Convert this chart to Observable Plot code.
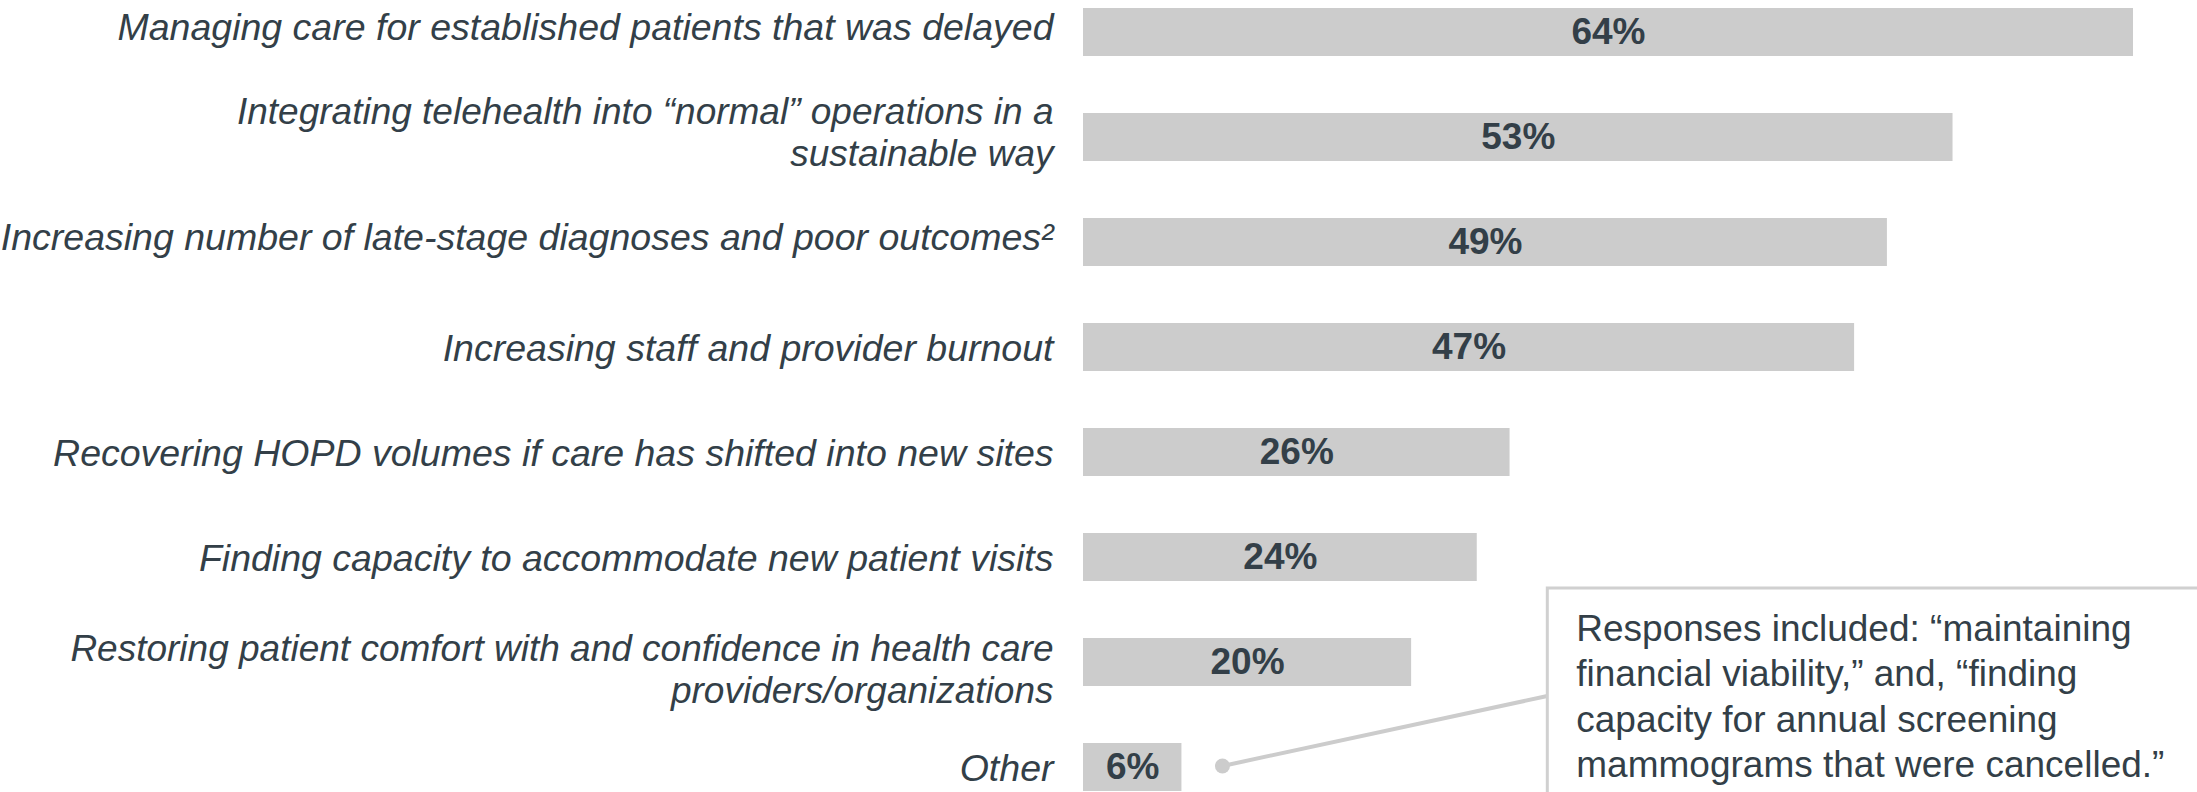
<!DOCTYPE html>
<html><head><meta charset="utf-8">
<script src="https://cdn.jsdelivr.net/npm/d3@7"></script>
<script src="https://cdn.jsdelivr.net/npm/@observablehq/plot@0.6"></script>
<style>
html,body{margin:0;padding:0;background:#fff;overflow:hidden;}
#chart svg{display:block;}
</style></head><body><div id="chart"></div>
<script>
const categories = [
  "Managing care for established patients that was delayed",
  "Integrating telehealth into “normal” operations in a\nsustainable way",
  "Increasing number of late-stage diagnoses and poor outcomes²",
  "Increasing staff and provider burnout",
  "Recovering HOPD volumes if care has shifted into new sites",
  "Finding capacity to accommodate new patient visits",
  "Restoring patient comfort with and confidence in health care\nproviders/organizations",
  "Other"
];
const values = [64, 53, 49, 47, 26, 24, 20, 6];
const valueLabels = ["64%", "53%", "49%", "47%", "26%", "24%", "20%", "6%"];
const noteCategory = "Other";
const noteLines = [
  "Responses included: “maintaining",
  "financial viability,” and, “finding",
  "capacity for annual screening",
  "mammograms that were cancelled.”"
];

const TEXT = "#333f48";
const GREY = "#cccccc";
const FONT = "'Liberation Sans', Arial, sans-serif";

const data = categories.map((c, i) => ({category: c, value: values[i], label: valueLabels[i], row: i}));

function noteMark(index, scales) {
  const x = scales.x, y = scales.y;
  const bw = y.bandwidth ? y.bandwidth() : 0;
  const cy = y(noteCategory) + bw / 2;
  const dotX = x(8.5), boxX = x(28.3);
  const g = d3.create("svg:g");
  g.append("line")
    .attr("x1", dotX).attr("y1", cy - 1)
    .attr("x2", boxX).attr("y2", cy - 71)
    .attr("stroke", GREY).attr("stroke-width", 4);
  g.append("circle")
    .attr("cx", dotX).attr("cy", cy - 1).attr("r", 7.5)
    .attr("fill", GREY);
  g.append("rect")
    .attr("x", boxX).attr("y", cy - 179)
    .attr("width", 1200).attr("height", 400)
    .attr("fill", "white").attr("stroke", "#d0d0d0").attr("stroke-width", 3);
  const t = g.append("text")
    .attr("fill", TEXT).attr("font-size", 37).attr("font-family", FONT)
    .attr("text-anchor", "start");
  noteLines.forEach((l, i) => {
    t.append("tspan").attr("x", boxX + 29).attr("y", cy - 126 + i * 45.3).text(l);
  });
  return g.node();
}

const labelOpts = {
  x: 0, y: "category", text: "category", dx: -30,
  textAnchor: "end", lineAnchor: "middle", lineHeight: 1.15,
  fontStyle: "italic", fill: TEXT,
  fontSize: d => d.category.includes("\n") ? 37 : 37.5
};

const plot = Plot.plot({
  width: 2197,
  height: 792,
  marginLeft: 1083,
  marginRight: 64,
  marginTop: 0,
  marginBottom: 0,
  style: {fontFamily: FONT, background: "white"},
  x: {domain: [0, 64], axis: null},
  y: {domain: categories, range: [0, 799], paddingInner: 0.547, paddingOuter: 0.047, label: null, axis: null},
  marks: [
    Plot.barX(data, {x: "value", y: "category", fill: GREY}),
    Plot.text(data, {x: d => d.value / 2, y: "category", text: "label", fontSize: 37, fontWeight: "bold", fill: TEXT}),
    Plot.text(data.filter(d => d.row < 3), {...labelOpts, dy: -6}),
    Plot.text(data.filter(d => d.row >= 3 && d.row !== 6), labelOpts),
    Plot.text(data.filter(d => d.row === 6), {...labelOpts, dy: 6}),
    noteMark
  ]
});
document.getElementById("chart").appendChild(plot);
</script>
</body></html>
